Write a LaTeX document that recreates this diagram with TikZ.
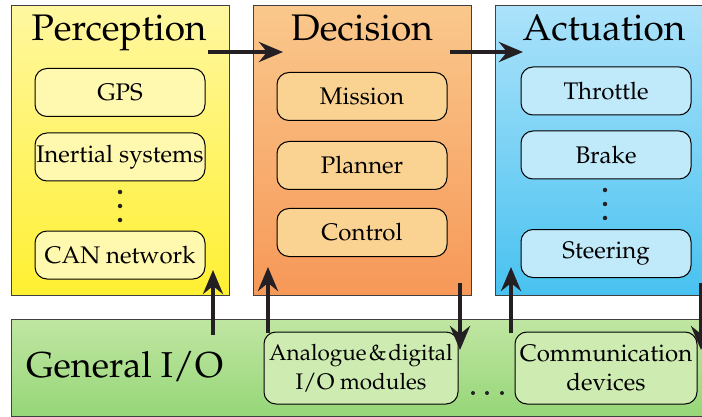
\documentclass[tikz,border=0pt]{standalone}
\usepackage[T1]{fontenc}
\usepackage{mathpazo}
\usetikzlibrary{arrows.meta}

\definecolor{perTop}{RGB}{255,247,160}
\definecolor{perBot}{RGB}{255,240,50}
\definecolor{perItem}{RGB}{255,248,175}
\definecolor{decTop}{RGB}{250,200,140}
\definecolor{decBot}{RGB}{246,152,88}
\definecolor{decItem}{RGB}{250,210,145}
\definecolor{actTop}{RGB}{172,226,250}
\definecolor{actBot}{RGB}{72,194,240}
\definecolor{actItem}{RGB}{192,233,250}
\definecolor{ioTop}{RGB}{192,230,162}
\definecolor{ioBot}{RGB}{150,214,120}
\definecolor{ioItem}{RGB}{206,236,178}
\definecolor{ink}{RGB}{35,31,35}

\begin{document}
\begin{tikzpicture}[x=1pt,y=-1pt,
  panel/.style={draw=black!75, line width=1.2pt, minimum width=218pt,
    minimum height=290pt, anchor=north west, inner sep=0pt},
  item/.style={draw=black, line width=1pt, rounded corners=12pt,
    minimum width=170pt, minimum height=48pt, inner sep=0pt, align=center,
    font=\fontsize{24}{29}\selectfont},
  title/.style={font=\fontsize{37}{40}\selectfont, anchor=base, inner sep=0pt},
  flow/.style={line width=4.5pt, draw=ink,
    -{Stealth[length=24pt,width=20pt,inset=8pt]}},
  vdot/.style={fill=ink, circle, inner sep=0pt, minimum size=4.5pt}
]
\useasboundingbox (0,0) rectangle (702,417);
\clip (0,0) rectangle (702,417);

% ---- three main stages ----
\node[panel, top color=perTop, bottom color=perBot] (per) at (11,5) {};
\node[panel, top color=decTop, bottom color=decBot] (dec) at (253,5) {};
\node[panel, top color=actTop, bottom color=actBot] (act) at (495,5) {};

\node[title] (perT) at (119,41) {Perception};
\node[title] (decT) at (362,41) {Decision};
\node[title] (actT) at (604,41) {Actuation};

% ---- perception blocks ----
\node[item, fill=perItem] (gps) at (120,92.5) {GPS};
\node[item, fill=perItem] (ins) at (120,157) {Inertial systems};
\node[vdot] (pd1) at (120,192) {};
\node[vdot] (pd2) at (120,206) {};
\node[vdot] (pd3) at (120,220) {};
\node[item, fill=perItem] (can) at (120,255) {CAN network};

% ---- decision blocks ----
\node[item, fill=decItem] (mis) at (362,96.5) {Mission};
\node[item, fill=decItem] (pla) at (362,165.5) {Planner};
\node[item, fill=decItem] (ctl) at (362,232.5) {Control};

% ---- actuation blocks ----
\node[item, fill=actItem] (thr) at (606,91) {Throttle};
\node[item, fill=actItem] (brk) at (606,155) {Brake};
\node[vdot] (ad1) at (605,190) {};
\node[vdot] (ad2) at (605,204) {};
\node[vdot] (ad3) at (605,218) {};
\node[item, fill=actItem] (str) at (606,253.5) {Steering};

% ---- general I/O layer ----
\node[panel, minimum width=720pt, minimum height=97pt,
  top color=ioTop, bottom color=ioBot] (gio) at (11,319) {};
\node[font=\fontsize{36}{40}\selectfont, anchor=base west, inner sep=0pt]
  (gioT) at (26,377) {General I/O};
\node[item, fill=ioItem, minimum width=194pt, minimum height=72pt,
  font=\fontsize{22.5}{29}\selectfont] (adio)
  at (361,368) {Analogue\hspace{2pt}\&\hspace{2pt}digital\\I/O modules};
\node[vdot, minimum size=4pt] (gd1) at (473,393) {};
\node[vdot, minimum size=4pt] (gd2) at (487,393) {};
\node[vdot, minimum size=4pt] (gd3) at (502,393) {};
\node[item, fill=ioItem, minimum width=182pt, minimum height=72pt] (comm)
  at (606,368) {Communication\\devices};

% ---- connector end points ----
\coordinate (perOut) at (208,52);
\coordinate (decIn)  at (283,52);
\coordinate (decOut) at (450,52);
\coordinate (actIn)  at (523,52);
\coordinate (ioPer)  at (213,335);
\coordinate (perIn)  at (213,270);
\coordinate (ioDec)  at (268,333);
\coordinate (decUp)  at (268,267);
\coordinate (decDn)  at (460,283);
\coordinate (ioIn1)  at (460,350);
\coordinate (ioAct)  at (511,333);
\coordinate (actUp)  at (511,267);
\coordinate (actDn)  at (701,283);
\coordinate (ioIn2)  at (701,350);

% ---- data flow ----
\draw[flow] (perOut) -- (decIn);
\draw[flow] (decOut) -- (actIn);
\draw[flow] (ioPer) -- (perIn);
\draw[flow] (ioDec) -- (decUp);
\draw[flow] (decDn) -- (ioIn1);
\draw[flow] (ioAct) -- (actUp);
\draw[flow] (actDn) -- (ioIn2);
\end{tikzpicture}
\end{document}
